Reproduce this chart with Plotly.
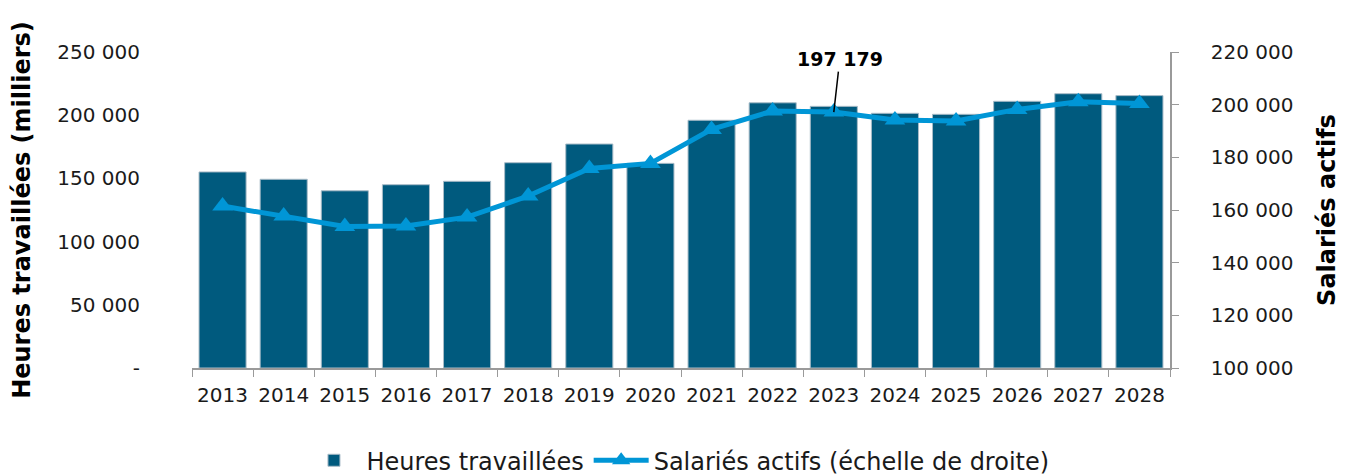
import plotly.graph_objects as go

# Données
annees = ["2013", "2014", "2015", "2016", "2017", "2018", "2019", "2020",
          "2021", "2022", "2023", "2024", "2025", "2026", "2027", "2028"]
heures = [155100, 149300, 140200, 145000, 147700, 162400, 177200, 161900,
          196000, 209800, 207000, 201500, 200700, 211000, 217000, 215500]
salaries = [161500, 157700, 153700, 153900, 157300, 165300, 175800, 177700,
            190600, 197600, 197179, 194200, 193800, 198200, 201100, 200400]

gauche_vals = [0, 50000, 100000, 150000, 200000, 250000]
gauche_txt = ["-", "50 000", "100 000", "150 000", "200 000", "250 000"]
droite_vals = [100000, 120000, 140000, 160000, 180000, 200000, 220000]
droite_txt = ["100 000", "120 000", "140 000", "160 000", "180 000", "200 000", "220 000"]

BLEU_FONCE = "#005a7e"
BLEU_CLAIR = "#0096d6"
GRIS = "#9a9a9a"
POLICE = "DejaVu Sans, Verdana, sans-serif"

fig = go.Figure()

fig.add_trace(go.Bar(
    x=annees, y=heures,
    name="Heures travaillées",
    marker=dict(color=BLEU_FONCE, line=dict(color="#a9bcc8", width=1)),
    yaxis="y",
))

fig.add_trace(go.Scatter(
    x=annees, y=salaries,
    name="Salariés actifs (échelle de droite)",
    mode="lines+markers",
    line=dict(color=BLEU_CLAIR, width=5),
    marker=dict(symbol="triangle-up", size=18, color=BLEU_CLAIR),
    yaxis="y2",
))

# Étiquette de la valeur 2023 (index de catégorie, pas le texte "2023")
i_2023 = annees.index("2023")
fig.add_annotation(
    x=i_2023, y=salaries[i_2023], xref="x", yref="y2",
    text="<b>197 179</b>",
    showarrow=True, arrowhead=0, arrowwidth=1.5, arrowcolor="black",
    ax=6, ay=-53,
    font=dict(family=POLICE, size=19, color="black"),
)

# la page ajoute une marge de 8 px en haut et à gauche
fig.update_layout(
    width=1348, height=474,
    margin=dict(l=184, r=186, t=44, b=114),
    plot_bgcolor="white", paper_bgcolor="white",
    font=dict(family=POLICE, size=20, color="#1a1a1a"),
    bargap=0.23,
    showlegend=True,
    legend=dict(
        orientation="h", xref="container", yref="container",
        x=0.497, xanchor="center", y=0.045, yanchor="middle",
        itemwidth=55,
        font=dict(family=POLICE, size=24, color="#1a1a1a"),
    ),
    xaxis=dict(
        type="category", automargin=False, range=[-0.5, len(annees) - 0.5],
        tickangle=0, ticklabelstandoff=8,
        showline=True, linecolor=GRIS, linewidth=1.5,
        ticks="outside", tickson="boundaries", ticklen=7, tickcolor=GRIS,
        showgrid=False,
    ),
    yaxis=dict(
        range=[0, 250000], tickvals=gauche_vals, ticktext=gauche_txt,
        showline=False, showgrid=False, zeroline=False, automargin=False,
        ticks="outside", ticklen=47, tickcolor="rgba(0,0,0,0)",
        title=dict(text="<b>Heures travaillées (milliers)</b>",
                   font=dict(size=24, color="black"), standoff=39),
    ),
    yaxis2=dict(
        range=[100000, 220000], tickvals=droite_vals, ticktext=droite_txt,
        overlaying="y", side="right", automargin=False,
        showline=True, linecolor=GRIS, linewidth=1.5,
        ticks="outside", ticklen=7, tickcolor=GRIS, ticklabelstandoff=28,
        showgrid=False, zeroline=False,
        title=dict(text="<b>Salariés actifs</b>",
                   font=dict(size=24, color="black"), standoff=26),
    ),
)

fig.write_html("out.html")
